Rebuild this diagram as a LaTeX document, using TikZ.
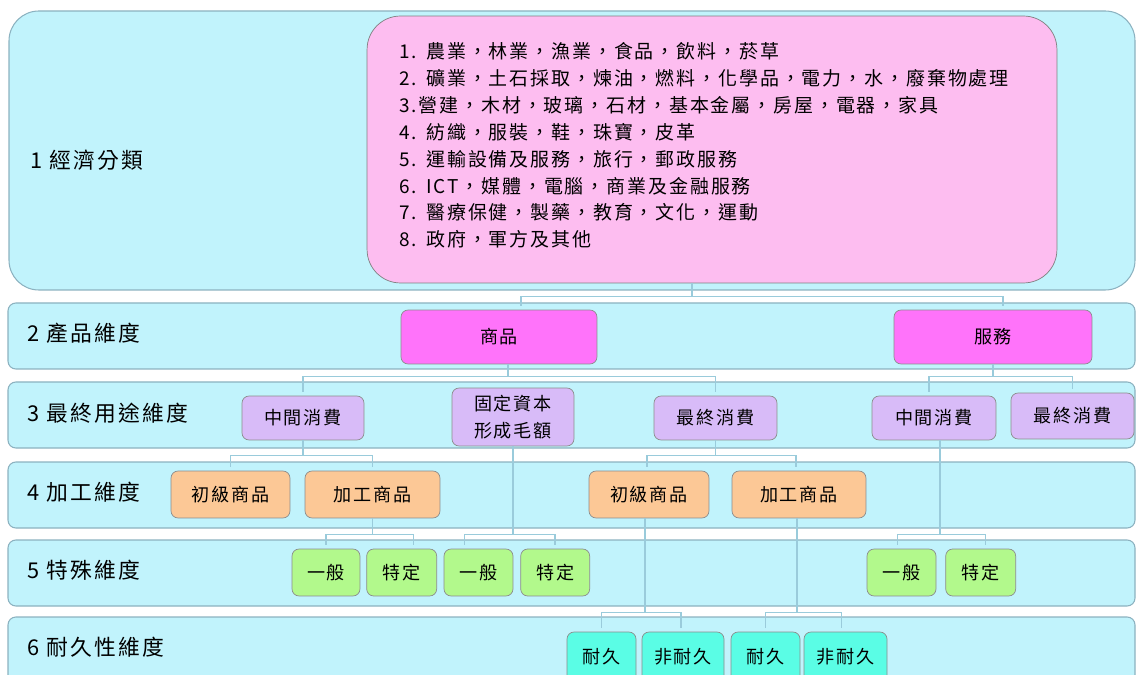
\documentclass[tikz,border=0pt]{standalone}
\usepackage{fontspec}
\newfontfamily\cjk[LetterSpace=10]{Noto Sans CJK TC}
\usepackage{tikz}
\usetikzlibrary{positioning, calc}
\definecolor{bandcyan}{RGB}{193,243,252}
\definecolor{bandedge}{RGB}{140,178,192}
\definecolor{listpink}{RGB}{253,189,240}
\definecolor{prodmagenta}{RGB}{255,115,250}
\definecolor{uselilac}{RGB}{216,187,248}
\definecolor{procpeach}{RGB}{252,200,150}
\definecolor{specgreen}{RGB}{178,249,140}
\definecolor{duraqua}{RGB}{90,253,229}
\definecolor{linkblue}{RGB}{154,203,219}

\begin{document}
\begin{tikzpicture}[x=0.02cm, y=-0.02cm,
    dim_band/.style={draw=bandedge, line width=0.6pt, fill=bandcyan, rounded corners=4.5pt},
    dim_label/.style={anchor=west, inner sep=0pt, font=\cjk\fontsize{12.4}{15}\selectfont},
    list_box/.style={draw=black!50, line width=0.4pt, fill=listpink, rounded corners=19pt, inner sep=0pt, font=\cjk\fontsize{10.8}{15.3}\selectfont},
    list_text/.style={inner sep=0pt, text width=12.56cm, align=left, font=\cjk\fontsize{10.8}{15.3}\selectfont},
    cat_box/.style={draw=black!45, line width=0.4pt, rounded corners=4pt, inner sep=0pt, minimum height=0.94cm, align=center, font=\cjk\fontsize{10.3}{15}\selectfont},
    link_line/.style={draw=linkblue, line width=0.9pt, shorten >=2pt}
]
    \path[use as bounding box, clip] (0,0) rectangle (1136,675);

    % Dimension bands
    \draw[dim_band, rounded corners=17pt] (9,11) rectangle (1135,290);
    \draw[dim_band] (8,303) rectangle (1135,369);
    \draw[dim_band] (8,382) rectangle (1135,448);
    \draw[dim_band] (8,462) rectangle (1135,528);
    \draw[dim_band] (8,540) rectangle (1135,606);
    \draw[dim_band] (8,617) rectangle (1135,700);

    % Band labels
    \node[dim_label] (lab_econ) at (30,160) {1 經濟分類};
    \node[dim_label] (lab_prod) at (27,333) {2 產品維度};
    \node[dim_label] (lab_use) at (27,413) {3 最終用途維度};
    \node[dim_label] (lab_proc) at (27,492) {4 加工維度};
    \node[dim_label] (lab_spec) at (27,570) {5 特殊維度};
    \node[dim_label] (lab_dura) at (27,647) {6 耐久性維度};

    % Economic classification list
    \node[list_box, minimum width=13.8cm, minimum height=5.34cm] (econ_list) at (712,149.5) {};
    \node[list_text] (econ_items) at (713,145.5) {%
        1. 農業，林業，漁業，食品，飲料，菸草\\
        2. 礦業，土石採取，煉油，燃料，化學品，電力，水，廢棄物處理\\
        3.營建，木材，玻璃，石材，基本金屬，房屋，電器，家具\\
        4. 紡織，服裝，鞋，珠寶，皮革\\
        5. 運輸設備及服務，旅行，郵政服務\\
        6. ICT，媒體，電腦，商業及金融服務\\
        7. 醫療保健，製藥，教育，文化，運動\\
        8. 政府，軍方及其他};

    % Product dimension
    \node[cat_box, fill=prodmagenta, minimum width=3.92cm, minimum height=1.08cm] (goods) at (499,337) {商品};
    \node[cat_box, fill=prodmagenta, minimum width=3.96cm, minimum height=1.08cm] (services) at (993,337) {服務};

    % End use dimension
    \node[cat_box, fill=uselilac, minimum width=2.44cm, minimum height=0.88cm] (mid_cons_l) at (303,418) {中間消費};
    \node[cat_box, fill=uselilac, minimum width=2.44cm, minimum height=1.16cm] (gfcf) at (513,417) {固定資本\\形成毛額};
    \node[cat_box, fill=uselilac, minimum width=2.46cm, minimum height=0.88cm] (final_cons_l) at (715.5,418) {最終消費};
    \node[cat_box, fill=uselilac, minimum width=2.48cm, minimum height=0.88cm] (mid_cons_r) at (934,418) {中間消費};
    \node[cat_box, fill=uselilac, minimum width=2.46cm, minimum height=0.92cm] (final_cons_r) at (1072.5,416) {最終消費};

    % Processing dimension
    \node[cat_box, fill=procpeach, minimum width=2.38cm] (primary_l) at (230.5,494.5) {初級商品};
    \node[cat_box, fill=procpeach, minimum width=2.7cm] (processed_l) at (372.5,494.5) {加工商品};
    \node[cat_box, fill=procpeach, minimum width=2.4cm] (primary_r) at (649,494.5) {初級商品};
    \node[cat_box, fill=procpeach, minimum width=2.68cm] (processed_r) at (799,494.5) {加工商品};

    % Special dimension
    \node[cat_box, fill=specgreen, minimum width=1.36cm] (general_1) at (326,572.5) {一般};
    \node[cat_box, fill=specgreen, minimum width=1.4cm, right=0.12cm of general_1] (specific_1) {特定};
    \node[cat_box, fill=specgreen, minimum width=1.38cm] (general_2) at (478.5,572.5) {一般};
    \node[cat_box, fill=specgreen, minimum width=1.38cm, right=0.14cm of general_2] (specific_2) {特定};
    \node[cat_box, fill=specgreen, minimum width=1.38cm] (general_3) at (901.5,572.5) {一般};
    \node[cat_box, fill=specgreen, minimum width=1.4cm, right=0.18cm of general_3] (specific_3) {特定};

    % Durability dimension
    \node[cat_box, fill=duraqua, minimum width=1.38cm, minimum height=1cm] (durable_1) at (601.5,657) {耐久};
    \node[cat_box, fill=duraqua, minimum width=1.64cm, minimum height=1cm] (nondurable_1) at (683,657) {非耐久};
    \node[cat_box, fill=duraqua, minimum width=1.38cm, minimum height=1cm] (durable_2) at (765.5,657) {耐久};
    \node[cat_box, fill=duraqua, minimum width=1.66cm, minimum height=1cm] (nondurable_2) at (845.5,657) {非耐久};

    % List to products
    \draw[link_line] ($(econ_list.south)+(-20,0)$) -- ++(0,13) coordinate (econ_bus) -| ($(goods.north)+(22,0)$);
    \draw[link_line] (econ_bus) -| ($(services.north)+(10,0)$);

    % Products to end use
    \draw[link_line] ($(goods.south)+(9,0)$) -- ++(0,12) coordinate (goods_bus) -| (mid_cons_l.north);
    \draw[link_line] (goods_bus) -| (final_cons_l.north);
    \draw[link_line] (services.south) -- ++(0,12) coordinate (serv_bus) -| ($(mid_cons_r.north)+(-5,0)$);
    \draw[link_line] (serv_bus) -| (final_cons_r.north);

    % End use to processing
    \draw[link_line] (mid_cons_l.south) -- ++(0,15) coordinate (midl_bus) -| (primary_l.north);
    \draw[link_line] (midl_bus) -| (processed_l.north);
    \draw[link_line] (final_cons_l.south) -- ++(0,15) coordinate (finl_bus) -| ($(primary_r.north)+(-2,0)$);
    \draw[link_line] (finl_bus) -| ($(processed_r.north)+(-3,0)$);

    % End use and processing to special
    \draw[link_line] (processed_l.south) -- ++(0,16) coordinate (procl_bus) -| (general_1.north);
    \draw[link_line] (procl_bus) -| ($(specific_1.north)+(12,0)$);
    \draw[link_line] (gfcf.south) -- ++(0,88) coordinate (gfcf_bus) -| ($(general_2.north)+(-14,0)$);
    \draw[link_line] (gfcf_bus) -| (specific_2.north);
    \draw[link_line] ($(mid_cons_r.south)+(6,0)$) -- ++(0,94) coordinate (midr_bus) -| ($(general_3.north)+(-4,0)$);
    \draw[link_line] (midr_bus) -| ($(specific_3.north)+(5,0)$);

    % Processing to durability
    \draw[link_line] ($(primary_r.south)+(-4,0)$) -- ++(0,94) coordinate (prim_bus) -| (durable_1.north);
    \draw[link_line] (prim_bus) -| ($(nondurable_1.north)+(-2,0)$);
    \draw[link_line] ($(processed_r.south)+(-2,0)$) -- ++(0,94) coordinate (procr_bus) -| (durable_2.north);
    \draw[link_line] (procr_bus) -| ($(nondurable_2.north)+(-4,0)$);
\end{tikzpicture}
\end{document}
